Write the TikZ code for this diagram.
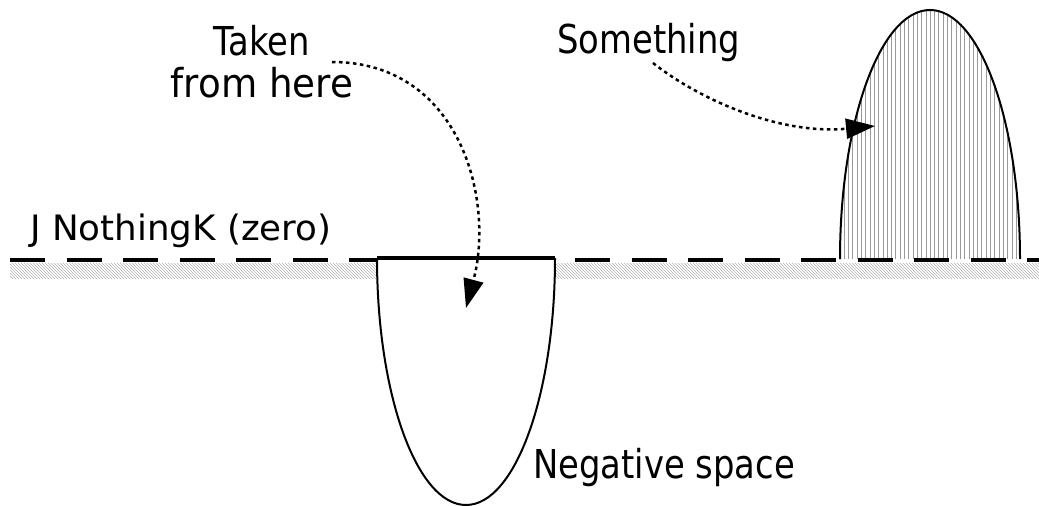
\documentclass[tikz,border=0pt]{standalone}
\usepackage{fontspec}
\setmainfont{DejaVu Sans}[FakeStretch=0.85]
\usetikzlibrary{arrows.meta,patterns}
\begin{document}
\begin{tikzpicture}[x=1pt,y=-1pt,
  lbl/.style={inner sep=0pt, font=\fontsize{39.8}{42}\selectfont},
  smalllbl/.style={inner sep=0pt, font=\fontsize{35}{38}\selectfont},
  outline/.style={draw=black, line width=2pt},
  zeroline/.style={draw=black, line width=4.5pt, dash pattern=on 35pt off 21.5pt},
  pointer/.style={draw=black, line width=2.5pt, dash pattern=on 3.5pt off 3.5pt,
    -{Triangle[length=29pt,width=20pt]}},
  vhatch/.style={draw=gray!80, line width=0.9pt}
]
\useasboundingbox (0,0) rectangle (1039,506);
% hatched band below zero
\fill[pattern=north west lines, pattern color=gray!60] (10,263) rectangle (1039,278);
% something shape (positive)
\begin{scope}
  \clip (840,259) arc[start angle=180, end angle=360, x radius=90, y radius=249] -- cycle;
  \fill[white] (840,0) rectangle (1020,259);
  \foreach \xx in {0,4.3,...,180} {\draw[vhatch] (840+\xx,0) -- (840+\xx,259);}
\end{scope}
\draw[outline] (840,259) arc[start angle=180, end angle=360, x radius=90, y radius=249];
% zero line
\draw[zeroline] (10,260) -- (1039,260);
% negative space shape
\fill[white] (377,258) arc[start angle=180, end angle=0, x radius=89, y radius=247] -- cycle;
\draw[outline] (377,258) arc[start angle=180, end angle=0, x radius=89, y radius=247];
\draw[line width=4pt] (377,258) -- (555,258);
% labels
\node[smalllbl, anchor=base west] (nothing) at (30,240) {\scalebox{1.2}[1]{J NothingK (zero)}};
\node[lbl, anchor=base west] (something) at (557,53) {Something};
\node[lbl, anchor=base west] (negative) at (533,478) {Negative space};
\node[lbl, align=center, anchor=base] (taken) at (262,97) {Taken\\\scalebox{1.1}[1]{from here}};
% connectors
\coordinate (t1s) at (332,62);
\coordinate (t1e) at (466,308);
\coordinate (s1s) at (653,63);
\coordinate (s1e) at (875,126);
\draw[pointer] (t1s) .. controls (460,62) and (495,200) .. (t1e);
\draw[pointer] (s1s) .. controls (700,100) and (780,135) .. (s1e);
\end{tikzpicture}
\end{document}
